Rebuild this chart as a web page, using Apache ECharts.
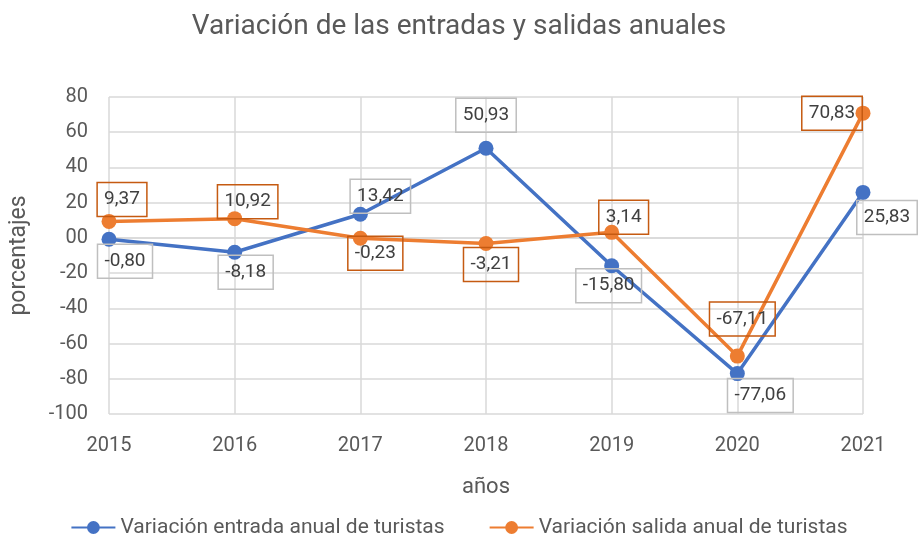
<!DOCTYPE html>
<html>
<head>
<meta charset="utf-8">
<script src="https://cdn.jsdelivr.net/npm/echarts@6/dist/echarts.min.js"></script>
<style>
  html, body { margin: 0; padding: 0; background: #fff; }
  #chart { width: 918px; height: 537px; }
</style>
</head>
<body>
<div id="chart"></div>
<script>
const years = ['2015', '2016', '2017', '2018', '2019', '2020', '2021']
const entradas = [-0.80, -8.18, 13.42, 50.93, -15.80, -77.06, 25.83]
const salidas = [9.37, 10.92, -0.23, -3.21, 3.14, -67.11, 70.83]
const yTicks = ['-100', '-80', '-60', '-40', '-20', '00', '20', '40', '60', '80']

// label offsets from each point (px)
const entradasOffsets = [[16, 22], [11, 20], [20, -18], [0, -33], [-3, 20], [23, 22], [24, 25]]
const salidasOffsets = [[13, -22], [13, -17], [15, 15], [5, 21], [12, -15], [5, -37], [-31, 0]]

const font = "'Roboto', sans-serif"
const blue = '#4472C4'
const orange = '#ED7D31'

const chart = echarts.init(document.getElementById('chart'))

const mkData = (vals, offs) => vals.map((v, i) => ({
  value: v,
  label: { offset: offs[i] },
}))

const labelBase = {
  show: true,
  position: 'inside',
  formatter: (p) => p.value.toFixed(2).replace('.', ','),
  fontFamily: font,
  fontSize: 19,
  lineHeight: 23,
  color: '#404040',
  padding: [6, 7, 5, 7],
  borderWidth: 1.5,
}

chart.setOption({
  animation: false,
  title: {
    text: 'Variación de las entradas y salidas anuales',
    left: 'center',
    top: 8,
    textStyle: { fontFamily: font, fontSize: 28, fontWeight: 'normal', color: '#595959' },
  },
  legend: {
    top: 512,
    left: 'center',
    itemWidth: 44,
    itemHeight: 16,
    itemGap: 44,
    textStyle: { fontFamily: font, fontSize: 21, color: '#595959' },
  },
  grid: { left: 108, right: 55, top: 97, bottom: 123 },
  xAxis: {
    type: 'category',
    data: years,
    boundaryGap: false,
    name: 'años',
    nameLocation: 'middle',
    nameGap: 62,
    nameTextStyle: { fontFamily: font, fontSize: 22, color: '#595959' },
    axisLine: { lineStyle: { color: '#d9d9d9', width: 1.5 } },
    axisTick: { show: false },
    axisLabel: { fontFamily: font, fontSize: 20, color: '#595959', margin: 22 },
    splitLine: { show: true, lineStyle: { color: '#d9d9d9', width: 1.5 } },
  },
  yAxis: {
    type: 'value',
    min: -100,
    max: 80,
    interval: 20,
    name: 'porcentajes',
    nameLocation: 'middle',
    nameGap: 78,
    nameTextStyle: { fontFamily: font, fontSize: 23, color: '#595959' },
    axisLine: { show: false },
    axisTick: { show: false },
    axisLabel: {
      fontFamily: font, fontSize: 20, color: '#595959', margin: 21,
      formatter: (v) => yTicks[Math.round((v + 100) / 20)],
    },
    splitLine: { lineStyle: { color: '#d9d9d9', width: 1.5 } },
  },
  series: [
    {
      name: 'Variación entrada anual de turistas',
      type: 'line',
      data: mkData(entradas, entradasOffsets),
      color: blue,
      symbol: 'circle',
      symbolSize: 15,
      lineStyle: { width: 3.5 },
      label: { ...labelBase, borderColor: '#bfbfbf' },
    },
    {
      name: 'Variación salida anual de turistas',
      type: 'line',
      data: mkData(salidas, salidasOffsets),
      color: orange,
      symbol: 'circle',
      symbolSize: 15,
      lineStyle: { width: 3.5 },
      label: { ...labelBase, borderColor: '#C55A11' },
    },
  ],
})
</script>
</body>
</html>
